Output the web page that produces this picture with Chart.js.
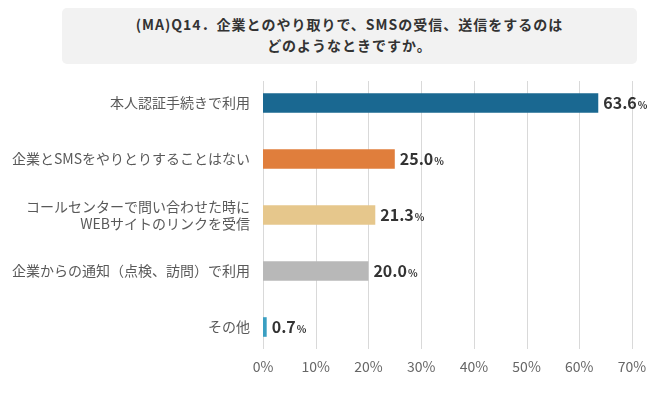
<!DOCTYPE html>
<html>
<head>
<meta charset="utf-8">
<script src="https://cdn.jsdelivr.net/npm/chart.js@4"></script>
<style>
  body { margin: 0; background: #fff; }
  #wrap { position: relative; width: 670px; height: 399px; }
  #title {
    position: absolute; left: 62px; top: 8px; width: 575px; height: 56px;
    background: #f2f2f2; border-radius: 5px;
    font-family: "Noto Sans CJK JP", sans-serif; font-weight: bold; font-size: 14px;
    color: #333; line-height: 21px; text-align: center;
    box-sizing: border-box; padding-top: 6px; letter-spacing: 1px;
  }
  #chartBox { position: absolute; left: 0; top: 0; width: 670px; height: 399px; }
</style>
</head>
<body>
<div id="wrap">
  <div id="chartBox"><canvas id="smsChart"></canvas></div>
  <div id="title">(MA)Q14．企業とのやり取りで、SMSの受信、送信をするのは<br>どのようなときですか。</div>
</div>
<script>
// SMS usage with companies
const categories = [
    '本人認証手続きで利用',
    '企業とSMSをやりとりすることはない',
    ['コールセンターで問い合わせた時に', 'WEBサイトのリンクを受信'],
    '企業からの通知（点検、訪問）で利用',
    'その他'
];
const values = [63.6, 25.0, 21.3, 20.0, 0.7];
const barColors = ['#1a6891', '#e07e3c', '#e6c78c', '#b8b8b8', '#3a9fc2'];
const xTicks = [0, 10, 20, 30, 40, 50, 60, 70];

const fontFamily = '"Noto Sans CJK JP", sans-serif';

// vertical grid lines, a bit shorter than the plot area
const gridPlugin = {
    id: 'shortGrid',
    beforeDatasetsDraw(chart) {
        const { ctx, chartArea, scales } = chart;
        ctx.save();
        ctx.strokeStyle = '#d9d9d9';
        ctx.lineWidth = 1;
        xTicks.forEach(v => {
            const x = Math.round(scales.x.getPixelForValue(v)) + 0.5;
            ctx.beginPath();
            ctx.moveTo(x, chartArea.top + 6);
            ctx.lineTo(x, chartArea.bottom - 6);
            ctx.stroke();
        });
        ctx.restore();
    }
};

// value labels: big number, small %
const valuePlugin = {
    id: 'valueLabels',
    afterDatasetsDraw(chart) {
        const { ctx } = chart;
        const meta = chart.getDatasetMeta(0);
        ctx.save();
        ctx.fillStyle = '#333';
        ctx.textBaseline = 'alphabetic';
        ctx.textAlign = 'left';
        meta.data.forEach((bar, i) => {
            const num = values[i].toFixed(1);
            const x = bar.x + 5;
            const y = bar.y + 6;
            ctx.font = 'bold 16px ' + fontFamily;
            ctx.fillText(num, x, y);
            const w = ctx.measureText(num).width;
            ctx.font = 'bold 10px ' + fontFamily;
            ctx.fillText('%', x + w + 1, y);
        });
        ctx.restore();
    }
};

const ctx = document.getElementById('smsChart').getContext('2d');
new Chart(ctx, {
    type: 'bar',
    data: {
        labels: categories,
        datasets: [{
            data: values,
            backgroundColor: barColors,
            categoryPercentage: 1,
            barPercentage: 0.35
        }]
    },
    options: {
        indexAxis: 'y',
        responsive: true,
        maintainAspectRatio: false,
        animation: false,
        layout: { padding: { top: 75, right: 38, left: 0, bottom: 0 } },
        plugins: {
            legend: { display: false },
            tooltip: { enabled: false }
        },
        scales: {
            x: {
                min: 0,
                max: 70,
                ticks: {
                    stepSize: 10,
                    padding: 3,
                    color: '#666',
                    font: { family: fontFamily, size: 14 },
                    callback: v => v + '%'
                },
                grid: { display: false, drawTicks: false },
                border: { display: false },
                afterFit(scale) { scale.height = 44; }
            },
            y: {
                ticks: {
                    padding: 13,
                    color: '#595959',
                    font: { family: fontFamily, size: 14, lineHeight: 1.2 }
                },
                grid: { display: false, drawTicks: false },
                border: { display: false },
                afterFit(scale) { scale.width = 263; }
            }
        }
    },
    plugins: [gridPlugin, valuePlugin]
});
</script>
</body>
</html>
